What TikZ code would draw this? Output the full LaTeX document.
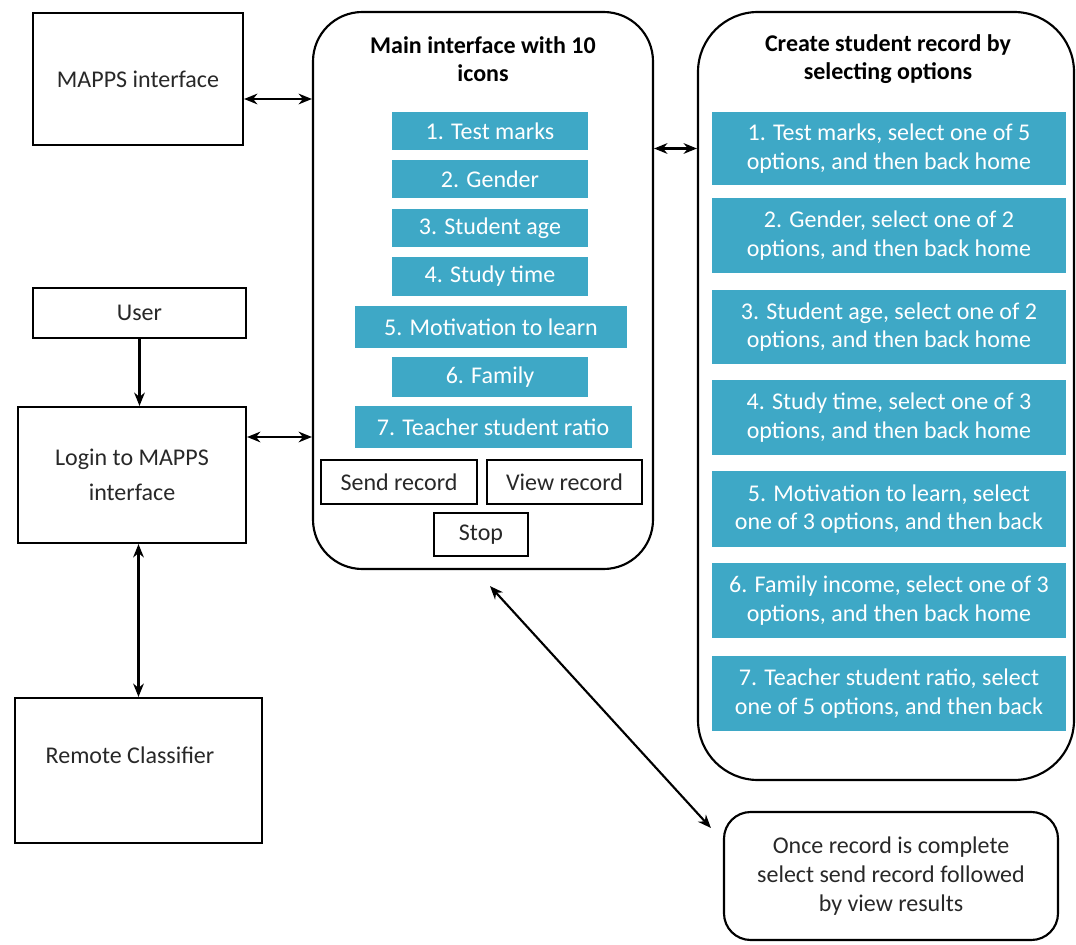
\documentclass[tikz,border=0pt]{standalone}
\usepackage{fontspec}
\setmainfont{Carlito}
\usetikzlibrary{arrows.meta}
\definecolor{tilefill}{RGB}{62,168,198}
\definecolor{ink}{RGB}{40,40,40}
\begin{document}
\begin{tikzpicture}[x=0.75pt,y=-0.75pt,
  every node/.style={font=\fontsize{18}{21.5}\selectfont, text=ink, inner sep=0pt, align=center},
  sz/.style 2 args={minimum width=#1*0.75pt, minimum height=#2*0.75pt},
  frame/.style={draw=black, line width=1.6pt},
  tile/.style={fill=tilefill, text=white},
  title/.style={font=\fontsize{18}{21}\selectfont\bfseries, text=black},
  link/.style={line width=1.6pt, {Stealth[length=10pt,width=8pt]}-{Stealth[length=10pt,width=8pt]}},
  oneway/.style={line width=1.6pt, -{Stealth[length=10pt,width=8pt]}}
]
\useasboundingbox[fill=white] (0,0) rectangle (1076,945);

% left column
\node[frame, sz={210}{132}] (mapps) at (138,79) {MAPPS interface};
\node[frame, sz={213}{50}] (user) at (139.5,313) {User};
\node[frame, sz={228}{136}, font=\fontsize{18}{26}\selectfont] (login) at (132,475) {Login to MAPPS\\interface};
\node[frame, sz={247}{145}] (remote) at (138.5,770.5) {};
\node (remotetext) at (130,755) {Remote Classifier};

% main interface
\node[frame, rounded corners=37pt, sz={340}{557}] (main) at (483,290.5) {};
\node[title] (maintitle) at (483,59) {Main interface with 10\\icons};
\node[tile, sz={196}{38}] (l1) at (490,131) {1. Test marks};
\node[tile, sz={196}{38}] (l2) at (490,179) {2. Gender};
\node[tile, sz={196}{38}] (l3) at (490,228) {3. Student age};
\node[tile, sz={196}{39}] (l4) at (490,276.5) {4. Study time};
\node[tile, sz={272}{42}] (l5) at (491,327) {5. Motivation to learn};
\node[tile, sz={196}{40}] (l6) at (490,377) {6. Family};
\node[tile, sz={277}{42}] (l7) at (493,427) {7. Teacher student ratio};
\node[frame, line width=1.2pt, sz={156}{44}] (send) at (399,482) {Send record};
\node[frame, line width=1.2pt, sz={155}{44}] (view) at (564.5,482) {View record};
\node[frame, line width=1.2pt, sz={94}{43}] (stop) at (481,534.5) {Stop};

% student record options
\node[frame, rounded corners=45pt, sz={376}{768}] (right) at (886,396) {};
\node[title] (righttitle) at (888,59) {Create student record by\\selecting options};
\node[tile, sz={354}{73}] (r1) at (889,148.5) {1. Test marks, select one of 5\\options, and then back home};
\node[tile, sz={354}{75}] (r2) at (889,235.5) {2. Gender, select one of 2\\options, and then back home};
\node[tile, sz={354}{74}] (r3) at (889,327) {3. Student age, select one of 2\\options, and then back home};
\node[tile, sz={354}{75}] (r4) at (889,417.5) {4. Study time, select one of 3\\options, and then back home};
\node[tile, sz={354}{76}] (r5) at (889,509) {5. Motivation to learn, select\\one of 3 options, and then back};
\node[tile, sz={354}{75}] (r6) at (889,600.5) {6. Family income, select one of 3\\options, and then back home};
\node[tile, sz={354}{75}] (r7) at (889,693.5) {7. Teacher student ratio, select\\one of 5 options, and then back};

\node[frame, rounded corners=20pt, sz={334}{128}, font=\fontsize{18}{21.75}\selectfont] (once) at (891,876) {Once record is complete\\select send record followed\\by view results};

% connectors
\draw[link] ([yshift=-15pt]mapps.east) -- ([yshift=-15pt]mapps.east -| main.west);
\draw[link] (main.east |- r1.center) -- (right.west |- r1.center);
\draw[oneway] (user.south) -- (user.south |- login.north);
\draw[link] ([yshift=28.5pt]login.east) -- ([yshift=28.5pt]login.east -| main.west);
\draw[link] (login.south -| remote.north) -- (remote.north);
\draw[link] ([shift={(7,16)}]main.south) -- ([shift={(-12,-48)}]once.west);
\end{tikzpicture}
\end{document}
